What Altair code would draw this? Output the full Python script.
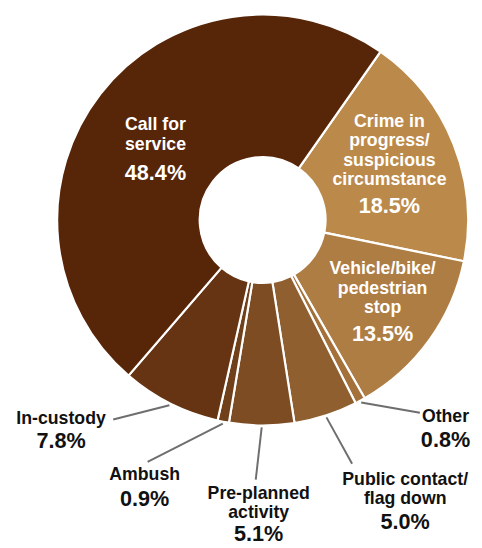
import math
import altair as alt
import pandas as pd

# ---- data ----
categories = [
    "Crime in progress/suspicious circumstance",
    "Vehicle/bike/pedestrian stop",
    "Other",
    "Public contact/flag down",
    "Pre-planned activity",
    "Ambush",
    "In-custody",
    "Call for service",
]
label_text = [
    "Crime in\nprogress/\nsuspicious\ncircumstance",
    "Vehicle/bike/\npedestrian\nstop",
    "Other",
    "Public contact/\nflag down",
    "Pre-planned\nactivity",
    "Ambush",
    "In-custody",
    "Call for\nservice",
]
shares = [18.5, 13.5, 0.8, 5.0, 5.1, 0.9, 7.8, 48.4]

# ---- styles / layout ----
colors = ["#bb8a4b", "#ae7d43", "#a4713b", "#8f5f2f", "#7e4c22", "#70401a", "#663412", "#572507"]
inside = [True, True, False, False, False, False, False, True]
# label anchors (first text line) relative to donut centre (px, y downwards)
name_pos = [(129, -99.7), (122, 50.1), (186, 200), (145, 264.5), (-4, 278.5), (-120, 259), (-205, 203), (-109, -96.2)]
pct_pos = [(129, -13.7), (122, 116), (186, 223.8), (145, 307.3), (-4, 319.6), (-120, 283.8), (-205, 225), (-109, -48)]
leader_end = [None, None, (160, 196), (91, 248), (-7, 264), (-117, 246), (-152, 203), None]
start_deg = 35.0
R_OUT, R_IN, R_LEAD = 209, 64, 211

W, H = 474, 540
CX, CY = 259, 211  # centre within the plot area
xs = alt.Scale(domain=[-CX, W - CX], range=[0, W], nice=False, zero=False)
# domain minimum at the top: values grow downwards
ys = alt.Scale(domain=[-CY, H - CY], range=[0, H], nice=False, zero=False)

df = pd.DataFrame({
    "category": categories,
    "share": shares,
    "idx": list(range(len(categories))),
    "zero": [0] * len(categories),
})

t0 = math.radians(start_deg)

arc = alt.Chart(df).mark_arc(
    innerRadius=R_IN, outerRadius=R_OUT, stroke="white", strokeWidth=2.2
).encode(
    theta=alt.Theta("share:Q", stack=True, scale=alt.Scale(range=[t0, t0 + 2 * math.pi])),
    order=alt.Order("idx:Q"),
    color=alt.Color("category:N", scale=alt.Scale(domain=categories, range=colors), legend=None),
    x=alt.X("zero:Q", scale=xs, axis=None),
    y=alt.Y("zero:Q", scale=ys, axis=None),
)

# leader lines: start at slice mid-angle just outside the ring
total = sum(shares)
cum = 0.0
rows = []
for i, s in enumerate(shares):
    mid = start_deg + 360.0 * (cum + s / 2) / total
    cum += s
    if leader_end[i] is None:
        continue
    a = math.radians(mid)
    rows.append({
        "x1": R_LEAD * math.sin(a), "y1": -R_LEAD * math.cos(a),
        "x2": leader_end[i][0], "y2": leader_end[i][1],
    })
lead_df = pd.DataFrame(rows)

leaders = alt.Chart(lead_df).mark_rule(color="#6e6e6e", strokeWidth=2).encode(
    x=alt.X("x1:Q", scale=xs, axis=None),
    y=alt.Y("y1:Q", scale=ys, axis=None),
    x2="x2:Q",
    y2="y2:Q",
)

lab_df = pd.DataFrame({
    "name": label_text,
    "pct": [f"{v:.1f}%" for v in shares],
    "nx": [p[0] for p in name_pos],
    "ny": [p[1] for p in name_pos],
    "px": [p[0] for p in pct_pos],
    "py": [p[1] for p in pct_pos],
    "col": ["#ffffff" if b else "#111111" for b in inside],
})

names = alt.Chart(lab_df).mark_text(
    font="Liberation Sans", fontWeight="bold", fontSize=18, lineHeight=19.7,
    lineBreak="\n", align="center", baseline="middle",
).encode(
    x=alt.X("nx:Q", scale=xs, axis=None),
    y=alt.Y("ny:Q", scale=ys, axis=None),
    text="name:N",
    color=alt.Color("col:N", scale=None),
)

pcts = alt.Chart(lab_df).mark_text(
    font="Liberation Sans", fontWeight="bold", fontSize=22, align="center", baseline="middle",
).encode(
    x=alt.X("px:Q", scale=xs, axis=None),
    y=alt.Y("py:Q", scale=ys, axis=None),
    text="pct:N",
    color=alt.Color("col:N", scale=None),
)

chart = alt.layer(arc, leaders, names, pcts).properties(
    width=W, height=H, padding=0, autosize=alt.AutoSizeParams(type="none"),
    background="white",
).configure_view(stroke=None)

chart.save("out.html", embed_options={"renderer": "svg", "actions": False})
